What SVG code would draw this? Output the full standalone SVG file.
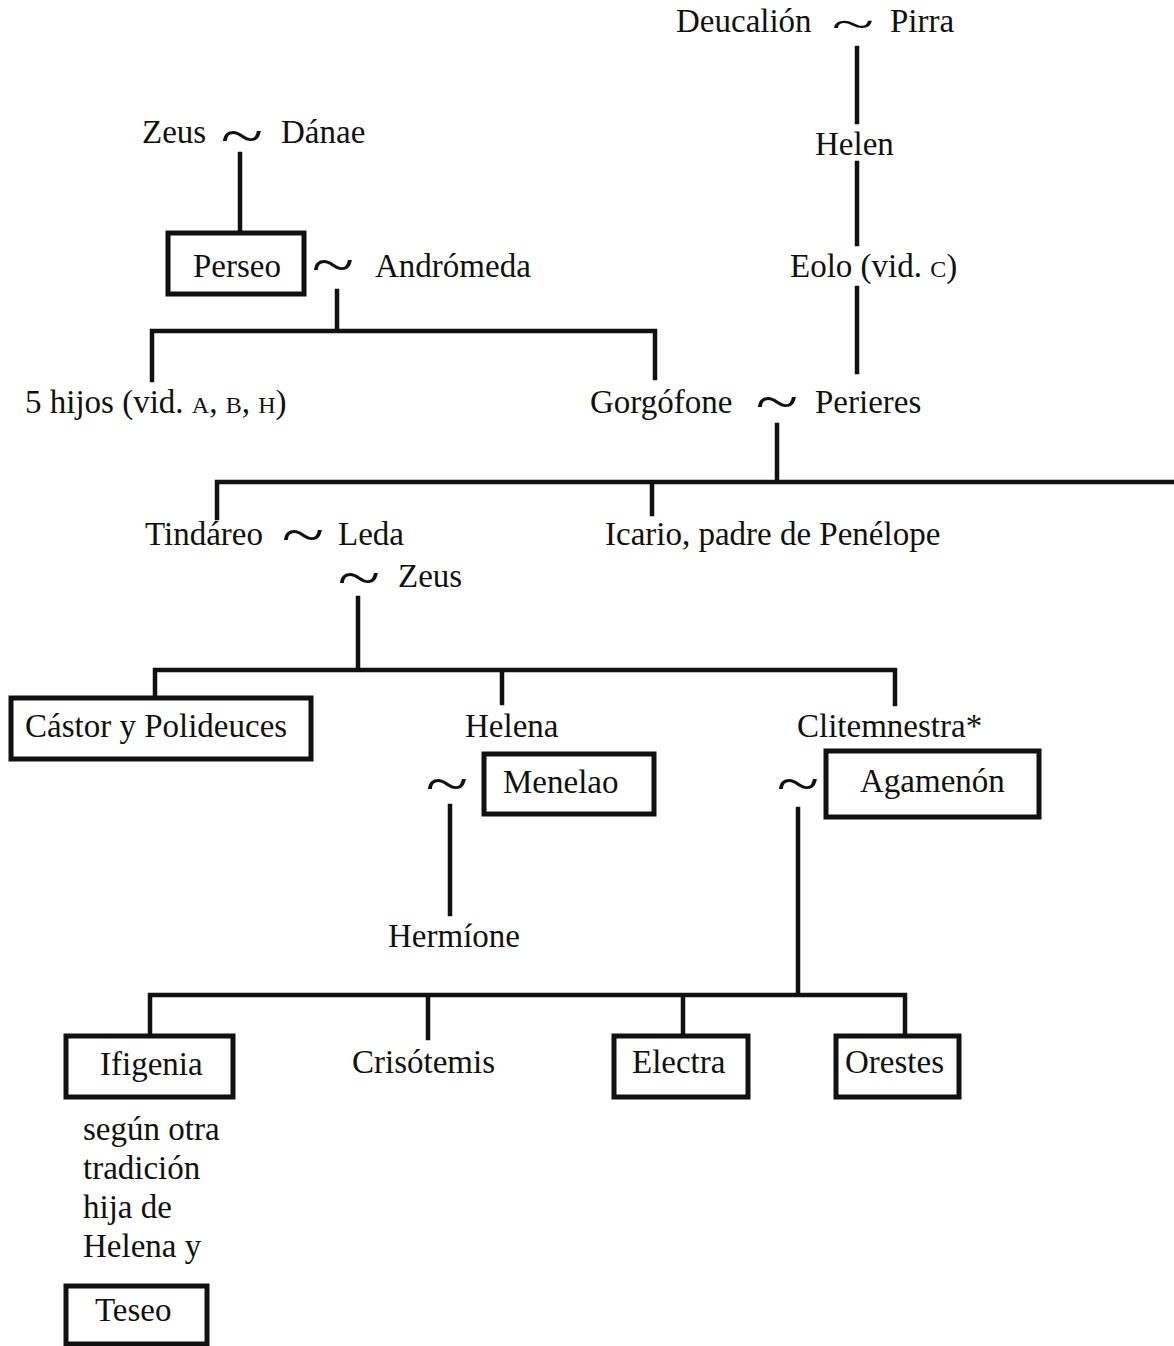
<svg xmlns="http://www.w3.org/2000/svg" width="1174" height="1346" viewBox="0 0 1174 1346">
  <style>
    text { font-family: "Liberation Serif", "Times New Roman", serif; font-size: 33px; fill: #111; }
    .sc { font-size: 24px; }
    .tl { font-size: 56px; text-anchor: middle; }
    .box { fill: none; stroke: #111; stroke-width: 5; }
    .ln { fill: none; stroke: #111; stroke-width: 4.5; stroke-linecap: square; }
  </style>
  <rect width="1174" height="1346" fill="#fff"/>

  <!-- descent lines -->
  <g id="connectors" class="ln">
    <path d="M857 48 V122"/>
    <path d="M857 163 V244"/>
    <path d="M857 288 V372"/>
    <path d="M240 154 V232"/>
    <path d="M337 291 V331 M152 380 V331 H655 V378"/>
    <path d="M777 425 V482 M217 518 V482 H1174 M652 482 V514"/>
    <path d="M358 598 V670 M155 697 V670 H895 V704 M502 670 V703"/>
    <path d="M450 806 V914"/>
    <path d="M798 809 V995 M150 1035 V995 H905 V1035 M428 995 V1038 M683 995 V1035"/>
  </g>

  <!-- marriage signs -->
  <g id="unions">
    <text class="tl" transform="translate(853,39) scale(1.4,0.78)">~</text>
    <text class="tl" transform="translate(242,155) scale(1.4,1)">~</text>
    <text class="tl" transform="translate(333,284) scale(1.4,1)">~</text>
    <text class="tl" transform="translate(777,421) scale(1.4,1)">~</text>
    <text class="tl" transform="translate(303,554) scale(1.4,1)">~</text>
    <text class="tl" transform="translate(359,597) scale(1.4,1)">~</text>
    <text class="tl" transform="translate(447,803) scale(1.4,1)">~</text>
    <text class="tl" transform="translate(798,803) scale(1.4,1)">~</text>
  </g>

  <g id="deucalion"><text x="676" y="32">Deucalión</text></g>
  <g id="pirra"><text x="890" y="32">Pirra</text></g>
  <g id="helen"><text x="815" y="155">Helen</text></g>
  <g id="eolo"><text x="790" y="277">Eolo (vid. <tspan class="sc">C</tspan>)</text></g>

  <g id="zeus1"><text x="142" y="143">Zeus</text></g>
  <g id="danae"><text x="281" y="143">Dánae</text></g>
  <g id="perseo">
    <rect class="box" x="168" y="233" width="136" height="61"/>
    <text x="193" y="277">Perseo</text>
  </g>
  <g id="andromeda"><text x="375" y="277">Andrómeda</text></g>

  <g id="hijos"><text x="25" y="413">5 hijos (vid. <tspan class="sc">A</tspan>, <tspan class="sc">B</tspan>, <tspan class="sc">H</tspan>)</text></g>
  <g id="gorgofone"><text x="590" y="413">Gorgófone</text></g>
  <g id="perieres"><text x="815" y="413">Perieres</text></g>

  <g id="tindareo"><text x="145" y="545">Tindáreo</text></g>
  <g id="leda"><text x="338" y="545">Leda</text></g>
  <g id="zeus2"><text x="398" y="587">Zeus</text></g>
  <g id="icario"><text x="605" y="545">Icario, padre de Penélope</text></g>

  <g id="castor">
    <rect class="box" x="11" y="698" width="300" height="61"/>
    <text x="25" y="737">Cástor y Polideuces</text>
  </g>
  <g id="helena"><text x="465" y="737">Helena</text></g>
  <g id="clitemnestra"><text x="797" y="737">Clitemnestra*</text></g>
  <g id="menelao">
    <rect class="box" x="484" y="754" width="170" height="60"/>
    <text x="503" y="793">Menelao</text>
  </g>
  <g id="agamenon">
    <rect class="box" x="826" y="751" width="213" height="66"/>
    <text x="860" y="792">Agamenón</text>
  </g>
  <g id="hermione"><text x="388" y="947">Hermíone</text></g>

  <g id="ifigenia">
    <rect class="box" x="66" y="1036" width="167" height="61"/>
    <text x="100" y="1075">Ifigenia</text>
  </g>
  <g id="crisotemis"><text x="352" y="1073">Crisótemis</text></g>
  <g id="electra">
    <rect class="box" x="614" y="1036" width="134" height="61"/>
    <text x="632" y="1073">Electra</text>
  </g>
  <g id="orestes">
    <rect class="box" x="836" y="1036" width="123" height="61"/>
    <text x="845" y="1073">Orestes</text>
  </g>

  <g id="nota">
    <text x="83" y="1140">según otra</text>
    <text x="83" y="1179">tradición</text>
    <text x="83" y="1218">hija de</text>
    <text x="83" y="1257">Helena y</text>
  </g>
  <g id="teseo">
    <rect class="box" x="66" y="1286" width="141" height="58"/>
    <text x="95" y="1321">Teseo</text>
  </g>
</svg>
